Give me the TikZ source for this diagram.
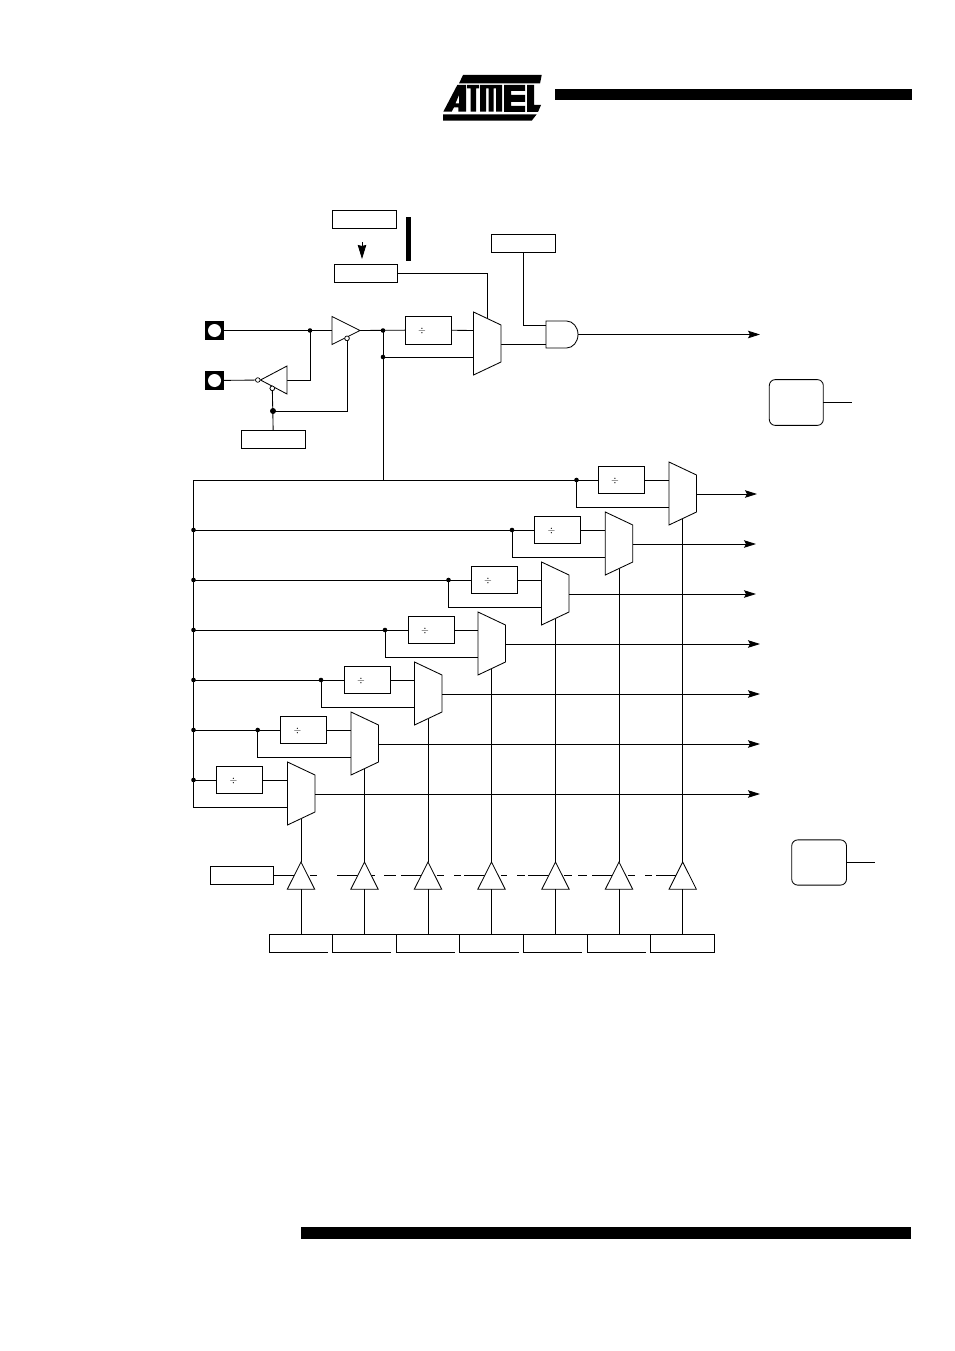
\documentclass[tikz,border=0pt]{standalone}
\usetikzlibrary{calc,arrows.meta}
\tikzset{
  x=1pt,y=-1pt,
  wire/.style={draw=black,line width=0.85pt},
  ptr/.style={wire,-{Stealth[length=12pt,width=7.5pt,inset=2pt]}},
  bx/.style={draw=black,line width=0.85pt,fill=white,rectangle,inner sep=0pt,outer sep=0pt},
  rbx/.style={bx,rounded corners=6pt},
  dotn/.style={circle,fill=black,inner sep=0pt,minimum size=4.6pt},
  bub/.style={circle,draw=black,fill=white,line width=0.7pt,inner sep=0pt,minimum size=4.6pt},
  frame/.style={rectangle,inner sep=0pt,outer sep=0pt},
  muxframe/.style={frame,minimum width=27.5pt,minimum height=63pt},
  shp/.style={draw=black,fill=white,line width=0.85pt,line join=miter},
  divt/.style={inner sep=0pt,font=\fontsize{10}{10}\selectfont},
  ink/.style={fill=black,draw=none},
}
\newcommand{\plainbox}[6]{\node[bx,minimum width=#4pt-#2pt,minimum height=#5pt-#3pt] (#1) at ({(#2+#4)/2},{(#3+#5)/2}) {#6};}
\newcommand{\muxat}[3]{\node[muxframe] (#1) at (#2,#3) {};
  \draw[shp] (#1.north west) -- ($(#1.north east)+(0,13)$) -- ($(#1.south east)+(0,-13)$) -- (#1.south west) -- cycle;}
\begin{document}
\begin{tikzpicture}
\useasboundingbox (0,0) rectangle (954,1351);
\fill[white] (0,0) rectangle (954,1351);
% logo
\fill[ink] (463,75) -- (541.7,75) -- (540,83.5) -- (459,83.5) -- cycle;
\fill[ink,even odd rule] (443.3,111.7) -- (457.3,85) -- (466,85) -- (466,111.7) -- (458.3,111.7) -- (458.3,107.3) -- (454,107.3) -- (451.7,111.7) -- cycle
  (459,95) -- (459,103.3) -- (455.5,103.3) -- cycle;
\fill[ink] (467,85) -- (479,85) -- (479,88.5) -- (476,88.5) -- (476,111.7) -- (470.5,111.7) -- (470.5,88.5) -- (467,88.5) -- cycle;
\fill[ink] (480,85) -- (502,85) -- (502,111.7) -- (496,111.7) -- (496,88.5) -- (493.5,88.5) -- (493.5,111.7) -- (488.5,111.7) -- (488.5,88.5) -- (486,88.5) -- (486,111.7) -- (480,111.7) -- cycle;
\fill[ink] (504,85) -- (525,85) -- (525,91) -- (511,91) -- (511,95) -- (525,95) -- (525,102) -- (511,102) -- (511,106) -- (525,106) -- (525,112) -- (504,112) -- cycle;
\fill[ink] (527,85) -- (534,85) -- (534,105) -- (541,105) -- (538,112) -- (527,112) -- cycle;
\fill[ink] (443,114.3) -- (536.7,114.3) -- (531.7,120.7) -- (443,120.7) -- cycle;
% page bars
\fill[ink] (555,89) rectangle (912,100);
\fill[ink] (301,1227) rectangle (911,1239);
\fill[ink] (406,217) rectangle (411,261);
% top
\plainbox{ra}{332}{210}{396}{228}{}
\plainbox{rb}{334}{264}{397.5}{282}{}
\plainbox{rc}{491}{234}{555}{252}{}
\plainbox{rd}{241}{430}{305.7}{448}{}
\coordinate (arrowtop) at (362,242);
\coordinate (arrowend) at (362,259);
\draw[wire,-{Stealth[length=14pt,width=8.5pt,inset=1pt]}] (arrowtop) -- (arrowend);
% pads
\node[ink,rectangle,minimum size=19pt,inner sep=0pt] (pa) at (214.5,330.5) {};
\node[ink,rectangle,minimum size=19pt,inner sep=0pt] (pb) at (214.5,380.5) {};
\node[circle,fill=white,minimum size=13pt,inner sep=0pt] (pac) at (pa.center) {};
\node[circle,fill=white,minimum size=13pt,inner sep=0pt] (pbc) at (pb.center) {};
% connectors of the input stage
\node[frame,minimum width=28pt,minimum height=28pt] (b1) at (346,330.5) {};
\node[frame,minimum width=26.5pt,minimum height=28pt] (b2) at (273.75,380) {};
\coordinate (j1) at (310,330.5);
\coordinate (j2) at (383,330.5);
\coordinate (j3) at (383,357);
\coordinate (j4) at (273,411);
\coordinate (bus) at (383,480);
\plainbox{d0}{405}{316}{451}{344}{}
\node[divt] (d0t) at (422,331) {$\div$};
\node[muxframe] (m0) at (487.25,343.5) {};
\node[frame,minimum width=32pt,minimum height=27pt] (g) at (562,334.5) {};
\coordinate (out0) at (760,334.5);
\coordinate (m0top) at (487.25,320);
\coordinate (m0out) at (501,344);
\node[bub] (i2) at (272.3,388.3) {};
\node[bub] (i3) at (347,338.3) {};
\draw[wire] (pa) -- (b1.west |- pa);
\draw[wire] (pb) -- (b2.west);
\draw[wire] (j1) |- (b2.east);
\draw[wire] (b1.east) -- (d0);
\draw[wire] (j3) -- ($(m0.west)+(0,13.5)$);
\draw[wire] (d0) -- ($(m0.west)+(0,-13)$);
\draw[wire] (j2) -- (bus);
\draw[wire] (i2) -- (rd);
\draw[wire] (j4) -| (i3);
\draw[wire] (rb.east) -| (m0top);
\draw[wire] (rc.south) |- ($(g.west)+(0,-9.5)$);
\draw[wire] (m0out) -- ($(g.west)+(0,9.5)$);
\draw[ptr] (g.east) -- (out0);
\draw[shp] (b1.north west) -- (b1.east) -- (b1.south west) -- cycle;
\draw[shp] (b2.north east) -- (b2.west) -- (b2.south east) -- cycle;
\draw[shp] (m0.north west) -- ($(m0.north east)+(0,13)$) -- ($(m0.south east)+(0,-13)$) -- (m0.south west) -- cycle;
\draw[shp] (g.north west) -- ++(20.5,0) arc[start angle=90,end angle=-90,x radius=11.5,y radius=-13.5] -- (g.south west) -- cycle;
\node[bub] (i1) at (257.8,380) {};
\node[bub] (i2b) at (272.3,388.3) {};
\node[bub] (i3b) at (347,338.3) {};
\node[dotn] (dj1) at (j1) {};
\node[dotn] (dj2) at (j2) {};
\node[dotn] (dj3) at (j3) {};
\node[dotn,minimum width=4pt,minimum height=6pt] (dj4) at (j4) {};
% side round boxes
\node[rbx,minimum width=54pt,minimum height=45.8pt] (ca) at (796.3,402.5) {};
\coordinate (caend) at (852,402.5);
\draw[wire] (ca.east) -- (caend);
\node[rbx,minimum width=54.8pt,minimum height=45.2pt] (cb) at (819.1,862.5) {};
\coordinate (cbend) at (875,862.5);
\draw[wire] (cb.east) -- (cbend);
% bus
\coordinate (bustl) at (193.5,480);
\coordinate (busb) at (193.5,807);
\draw[wire] (bus) -- (bustl) -- (busb);
% mux ladder: id / mux x / mux y / box left / dot x / tip x
\foreach \i/\mx/\my/\bl/\jx/\tip in {
  1/287.5/762/216.5/193.5/760,
  2/351/712/280.5/257.7/760,
  3/414.5/662/344/321/760,
  4/478/612/408/385/760,
  5/541.5/562/471/448.5/756,
  6/605.3/512/534.5/512/756,
  7/669/462/598/576.5/757}{
  \pgfmathsetmacro{\cy}{\my+31.5}
  \pgfmathsetmacro{\cx}{\mx+13.75}
  \muxat{m\i}{\cx}{\cy}
  \node[bx,minimum width=46pt,minimum height=27.8pt] (d\i) at ({\bl+23},{\my+18}) {};
  \node[divt] (d\i t) at ({\bl+17},{\my+18.5}) {$\div$};
  \coordinate (s\i) at ({\jx},{\my+18});
  \coordinate (e\i) at ({\tip},{\my+32});
  \draw[wire] (bustl |- s\i) -- (d\i.west);
  \draw[wire] (d\i.east) -- ($(m\i.west)+(0,-13.5)$);
  \draw[wire] (s\i) |- ($(m\i.west)+(0,13.5)$);
  \draw[ptr] ($(m\i.east)+(0,0.5)$) -- (e\i);
}
\foreach \i in {1,...,6}{\node[dotn] (bd\i) at (bustl |- s\i) {};}
\foreach \i in {2,...,7}{\node[dotn] (sd\i) at (s\i) {};}
% enable box and buffers
\plainbox{en}{210.3}{866.3}{273.7}{884.3}{}
\foreach \i/\tx in {1/301,2/364.5,3/428,4/491.5,5/555.5,6/619,7/682.7}{
  \node[frame,minimum width=27.4pt,minimum height=27.3pt] (t\i) at (\tx,875.65) {};
}
\foreach \i in {1,...,7}{
  \path ($(m\i.south)+(0,-6.5)$) coordinate (q\i);
  \draw[wire] (t\i.north |- q\i) -- (t\i.north);
}
\coordinate (enend) at (682.7,875.3);
\draw[wire,dash pattern=on 22.3pt off 14pt on 7pt off 20pt on 21pt off 12pt on 5pt off 9pt on 12pt off 5pt on 20pt off 16pt on 7pt off 10pt on 7pt off 3pt on 21pt off 16pt on 6pt off 10pt on 8pt off 3pt on 22pt off 14pt on 8pt off 6pt on 9pt off 5pt on 20pt off 16pt on 7pt off 10pt on 7pt off 4pt on 30pt off 30pt] (en.east |- enend) -- (enend);
\foreach \i in {1,...,7}{
  \draw[shp] (t\i.north) -- (t\i.south east) -- (t\i.south west) -- cycle;
}
% bottom register row
\draw[wire] (269.3,934.3) -- (714.5,934.3) -- (714.5,952.3) -- (650.5,952.3) -- (650.5,934.3);
\foreach \i/\l/\r in {1/269.3/327.7,2/332.5/390.7,3/396.5/455,4/459.7/518.7,5/523.5/581.7,6/587.5/646}{
  \node[frame,minimum width={\r pt-\l pt},minimum height=18pt] (r\i) at ({(\l+\r)/2},943.3) {};
  \draw[wire] (r\i.north west) -- (r\i.south west) -- (r\i.south east);
}
\node[frame,minimum width=64pt,minimum height=18pt] (r7) at (682.5,943.3) {};
\foreach \i in {1,...,7}{\draw[wire] (t\i.south) -- (t\i.south |- r\i.north);}
\end{tikzpicture}
\end{document}
